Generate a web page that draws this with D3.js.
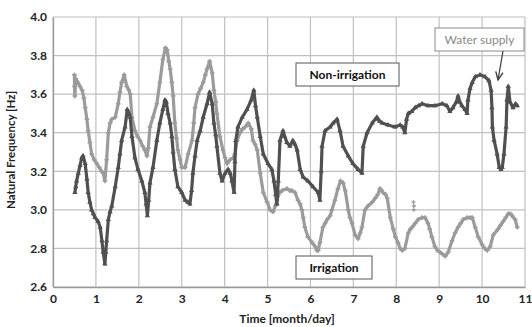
<!DOCTYPE html>
<html>
<head>
<meta charset="utf-8">
<script src="https://cdn.jsdelivr.net/npm/d3@7"></script>
<style>
  body { margin: 0; background: #fff; }
  text { font-family: Lato, "Open Sans", sans-serif; }
</style>
</head>
<body>
<div id="chart"></div>
<script>
// Series: [time, frequency]
const irrigation = [
  [0.50,3.70],[0.50,3.64],[0.51,3.59],[0.53,3.68],[0.58,3.66],[0.63,3.64],[0.68,3.62],[0.72,3.58],[0.75,3.53],[0.79,3.47],
  [0.82,3.41],[0.86,3.35],[0.90,3.29],[0.96,3.26],[1.02,3.24],[1.08,3.22],[1.13,3.20],[1.17,3.19],[1.21,3.15],[1.25,3.26],
  [1.29,3.40],[1.33,3.45],[1.37,3.47],[1.45,3.48],[1.52,3.55],[1.56,3.61],[1.60,3.66],[1.66,3.70],[1.72,3.64],[1.77,3.62],
  [1.80,3.60],[1.84,3.48],[1.91,3.41],[1.97,3.38],[2.03,3.36],[2.09,3.33],[2.14,3.31],[2.19,3.28],[2.22,3.32],[2.26,3.43],
  [2.33,3.48],[2.42,3.55],[2.49,3.66],[2.56,3.78],[2.62,3.84],[2.66,3.83],[2.70,3.77],[2.73,3.73],[2.77,3.66],[2.80,3.59],
  [2.84,3.45],[2.88,3.37],[2.91,3.31],[2.96,3.26],[3.00,3.22],[3.08,3.22],[3.15,3.29],[3.24,3.36],[3.28,3.45],[3.31,3.53],
  [3.38,3.60],[3.44,3.63],[3.50,3.66],[3.55,3.70],[3.59,3.73],[3.65,3.77],[3.71,3.71],[3.75,3.62],[3.79,3.56],[3.82,3.50],
  [3.89,3.38],[3.96,3.31],[4.01,3.27],[4.06,3.24],[4.13,3.26],[4.20,3.27],[4.24,3.29],[4.29,3.36],[4.36,3.40],[4.42,3.42],
  [4.48,3.43],[4.55,3.45],[4.62,3.42],[4.66,3.36],[4.71,3.34],[4.76,3.31],[4.83,3.19],[4.90,3.09],[4.99,3.04],[5.06,3.00],
  [5.13,2.99],[5.18,3.02],[5.22,3.05],[5.28,3.09],[5.34,3.10],[5.45,3.11],[5.52,3.10],[5.57,3.10],[5.64,3.09],[5.71,3.05],
  [5.76,3.03],[5.80,3.00],[5.83,2.96],[5.87,2.91],[5.94,2.86],[6.04,2.83],[6.11,2.81],[6.15,2.79],[6.18,2.79],[6.22,2.83],
  [6.29,2.91],[6.34,2.93],[6.39,2.95],[6.46,2.97],[6.50,3.00],[6.57,3.05],[6.64,3.11],[6.70,3.15],[6.76,3.14],[6.81,3.10],
  [6.88,3.00],[6.92,2.96],[6.97,2.93],[7.04,2.87],[7.11,2.85],[7.16,2.88],[7.20,2.91],[7.27,3.00],[7.34,3.02],[7.44,3.04],
  [7.51,3.06],[7.57,3.08],[7.62,3.11],[7.66,3.10],[7.69,3.09],[7.75,3.08],[7.79,3.06],[7.86,2.96],[7.93,2.90],[7.98,2.86],
  [8.04,2.83],[8.09,2.80],[8.14,2.79],[8.20,2.80],[8.28,2.88],[8.33,2.90],[8.37,2.91],[8.44,2.93],[8.51,2.95],[8.60,2.96],
  [8.67,2.96],[8.74,2.93],[8.78,2.90],[8.83,2.86],[8.90,2.81],[8.96,2.79],[9.02,2.78],[9.08,2.77],[9.14,2.76],[9.21,2.78],
  [9.30,2.84],[9.37,2.88],[9.44,2.91],[9.50,2.93],[9.56,2.95],[9.65,2.96],[9.72,2.96],[9.77,2.96],[9.84,2.91],[9.91,2.86],
  [10.00,2.82],[10.06,2.80],[10.12,2.79],[10.19,2.81],[10.26,2.87],[10.37,2.90],[10.43,2.92],[10.49,2.94],[10.55,2.96],[10.61,2.98],
  [10.66,2.98],[10.70,2.97],[10.77,2.95],[10.82,2.91]
];
const irrigationStray = [[8.40,3.04],[8.41,3.02],[8.41,3.00]];

const nonIrrigation = [
  [0.51,3.09],[0.53,3.12],[0.55,3.15],[0.59,3.19],[0.63,3.23],[0.67,3.27],[0.70,3.28],[0.75,3.24],[0.79,3.16],[0.82,3.09],
  [0.86,3.04],[0.90,3.00],[0.94,2.98],[0.98,2.96],[1.05,2.94],[1.10,2.91],[1.14,2.84],[1.17,2.78],[1.21,2.72],[1.23,2.78],
  [1.25,2.84],[1.29,2.95],[1.33,2.99],[1.37,3.02],[1.45,3.12],[1.52,3.22],[1.56,3.29],[1.60,3.36],[1.68,3.43],[1.73,3.52],
  [1.77,3.50],[1.80,3.48],[1.84,3.38],[1.91,3.27],[1.98,3.21],[2.07,3.15],[2.14,3.09],[2.17,3.03],[2.20,2.97],[2.23,3.05],
  [2.26,3.14],[2.33,3.22],[2.42,3.36],[2.49,3.45],[2.56,3.52],[2.61,3.57],[2.64,3.56],[2.68,3.50],[2.73,3.45],[2.77,3.38],
  [2.80,3.30],[2.84,3.21],[2.91,3.12],[3.00,3.09],[3.08,3.05],[3.14,3.04],[3.19,3.03],[3.23,3.10],[3.26,3.19],[3.31,3.28],
  [3.36,3.36],[3.43,3.41],[3.50,3.48],[3.59,3.55],[3.65,3.61],[3.71,3.55],[3.75,3.45],[3.79,3.39],[3.82,3.33],[3.89,3.19],
  [3.94,3.15],[4.01,3.19],[4.08,3.21],[4.13,3.19],[4.17,3.15],[4.22,3.09],[4.24,3.25],[4.26,3.36],[4.31,3.43],[4.41,3.48],
  [4.52,3.52],[4.62,3.57],[4.68,3.62],[4.72,3.54],[4.76,3.48],[4.83,3.38],[4.90,3.29],[5.01,3.24],[5.10,3.21],[5.15,3.15],
  [5.19,3.08],[5.22,3.03],[5.25,3.15],[5.29,3.36],[5.36,3.41],[5.40,3.38],[5.45,3.35],[5.52,3.33],[5.59,3.36],[5.64,3.34],
  [5.69,3.31],[5.76,3.21],[5.83,3.17],[5.94,3.15],[6.06,3.12],[6.18,3.09],[6.22,3.05],[6.25,3.20],[6.27,3.33],[6.34,3.41],
  [6.46,3.43],[6.53,3.45],[6.62,3.47],[6.69,3.41],[6.76,3.33],[6.88,3.28],[6.99,3.24],[7.11,3.21],[7.20,3.19],[7.23,3.33],
  [7.32,3.40],[7.44,3.45],[7.51,3.47],[7.55,3.48],[7.61,3.46],[7.67,3.45],[7.81,3.44],[7.97,3.43],[8.09,3.44],[8.15,3.43],
  [8.20,3.40],[8.24,3.47],[8.28,3.50],[8.36,3.51],[8.44,3.53],[8.52,3.54],[8.60,3.55],[8.74,3.54],[8.90,3.54],[9.07,3.55],
  [9.18,3.54],[9.25,3.51],[9.32,3.53],[9.40,3.56],[9.44,3.59],[9.48,3.56],[9.53,3.54],[9.60,3.52],[9.65,3.50],[9.67,3.57],
  [9.72,3.63],[9.77,3.66],[9.84,3.69],[9.95,3.70],[10.07,3.69],[10.16,3.67],[10.21,3.62],[10.23,3.53],[10.24,3.43],[10.28,3.36],
  [10.35,3.29],[10.40,3.22],[10.44,3.21],[10.47,3.22],[10.51,3.29],[10.56,3.43],[10.58,3.57],[10.61,3.64],[10.65,3.56],[10.72,3.53],
  [10.78,3.55],[10.82,3.54]
];

const xTicks = [0,1,2,3,4,5,6,7,8,9,10,11];
const yTicks = [2.6,2.8,3.0,3.2,3.4,3.6,3.8,4.0];

// Dimensions
const margin = { top: 17, right: 7, bottom: 40, left: 53 }
const width = 532 - margin.left - margin.right
const height = 327 - margin.top - margin.bottom

const svg = d3.select("#chart")
    .append("svg")
    .attr("width", 532)
    .attr("height", 327)
    .append("g")
    .attr("transform", "translate(" + margin.left + "," + margin.top + ")");

const XScale = d3.scaleLinear().domain([0, 11]).range([0, width])
const YScale = d3.scaleLinear().domain([2.6, 4.0]).range([height, 0])

// grid
svg.append("g").selectAll("line").data(yTicks).enter().append("line")
    .attr("x1", 0).attr("x2", width)
    .attr("y1", d => YScale(d)).attr("y2", d => YScale(d))
    .attr("stroke", "#c0c0c0").attr("stroke-width", 1.2)
svg.append("g").selectAll("line").data(xTicks).enter().append("line")
    .attr("y1", 0).attr("y2", height)
    .attr("x1", d => XScale(d)).attr("x2", d => XScale(d))
    .attr("stroke", "#c0c0c0").attr("stroke-width", 1.2)

// axes
const XAxis = d3.axisBottom(XScale).tickValues(xTicks).tickSize(0).tickPadding(7).tickFormat(d3.format("d"))
const YAxis = d3.axisLeft(YScale).tickValues(yTicks).tickSize(0).tickPadding(6).tickFormat(d3.format(".1f"))

svg.append("g")
    .attr("transform", "translate(0," + height + ")")
    .call(XAxis)
    .call(g => g.select(".domain").attr("stroke", "#9a9a9a").attr("stroke-width", 1.3))
    .selectAll("text")
    .attr("font-size", 12).attr("font-weight", "bold").attr("fill", "#222")

svg.append("g")
    .call(YAxis)
    .call(g => g.select(".domain").attr("stroke", "#9a9a9a").attr("stroke-width", 1.3))
    .selectAll("text")
    .attr("font-size", 12).attr("font-weight", "bold").attr("fill", "#222")

svg.append("text")
    .attr("x", width / 2 - 2).attr("y", height + 36)
    .attr("text-anchor", "middle")
    .attr("font-size", 12).attr("font-weight", "bold").attr("fill", "#222")
    .text("Time [month/day]")

svg.append("text")
    .attr("transform", "rotate(-90)")
    .attr("x", -height / 2 + 2).attr("y", -38)
    .attr("text-anchor", "middle")
    .attr("font-size", 11.5).attr("font-weight", "bold").attr("fill", "#222")
    .text("Natural Frequency [Hz]")

// series
const Line = d3.line()
    .x(d => XScale(d[0]))
    .y(d => YScale(d[1]))

const series = [
    { name: "Irrigation", data: irrigation, color: "#9b9b9b", symbol: d3.symbolCross },
    { name: "Non-irrigation", data: nonIrrigation, color: "#505050", symbol: d3.symbolTriangle }
]

series.forEach(s => {
    svg.append("path")
        .attr("d", Line(s.data))
        .attr("fill", "none")
        .attr("stroke", s.color)
        .attr("stroke-width", 3.2)
        .attr("stroke-linejoin", "round")
        .attr("stroke-linecap", "round")
    svg.append("g").selectAll("path")
        .data(s.data)
        .enter().append("path")
        .attr("transform", d => "translate(" + XScale(d[0]) + "," + YScale(d[1]) + ")")
        .attr("d", d3.symbol().type(s.symbol).size(12))
        .attr("fill", s.color)
})

svg.append("g").selectAll("path")
    .data(irrigationStray)
    .enter().append("path")
    .attr("transform", d => "translate(" + XScale(d[0]) + "," + YScale(d[1]) + ")")
    .attr("d", d3.symbol().type(d3.symbolCross).size(9))
    .attr("fill", "#9b9b9b")

// labels
function box(x, y, w, h, label, opts) {
    svg.append("rect")
        .attr("x", x).attr("y", y).attr("width", w).attr("height", h)
        .attr("fill", "#fff").attr("stroke", opts.stroke).attr("stroke-width", 1)
    svg.append("text")
        .attr("x", x + w / 2).attr("y", y + h / 2 + 4)
        .attr("text-anchor", "middle")
        .attr("font-size", opts.size).attr("font-weight", opts.weight).attr("fill", opts.fill)
        .text(label)
}
box(243, 46, 103, 23, "Non-irrigation", { stroke: "#555", size: 12, weight: "bold", fill: "#111" })
box(243, 239, 76, 23, "Irrigation", { stroke: "#555", size: 12, weight: "bold", fill: "#111" })
box(382, 11, 89, 23, "Water supply", { stroke: "#8a8a8a", size: 12, weight: "normal", fill: "#888" })

svg.append("defs").append("marker")
    .attr("id", "arrow").attr("viewBox", "0 0 10 10")
    .attr("refX", 9).attr("refY", 5)
    .attr("markerWidth", 7).attr("markerHeight", 7)
    .attr("orient", "auto")
    .append("path").attr("d", "M0,1 L9,5 L0,9").attr("fill", "none").attr("stroke", "#444").attr("stroke-width", 1.6)
svg.append("line")
    .attr("x1", 450).attr("y1", 34).attr("x2", 445).attr("y2", 63)
    .attr("stroke", "#444").attr("stroke-width", 1.3)
    .attr("marker-end", "url(#arrow)")
</script>
</body>
</html>
